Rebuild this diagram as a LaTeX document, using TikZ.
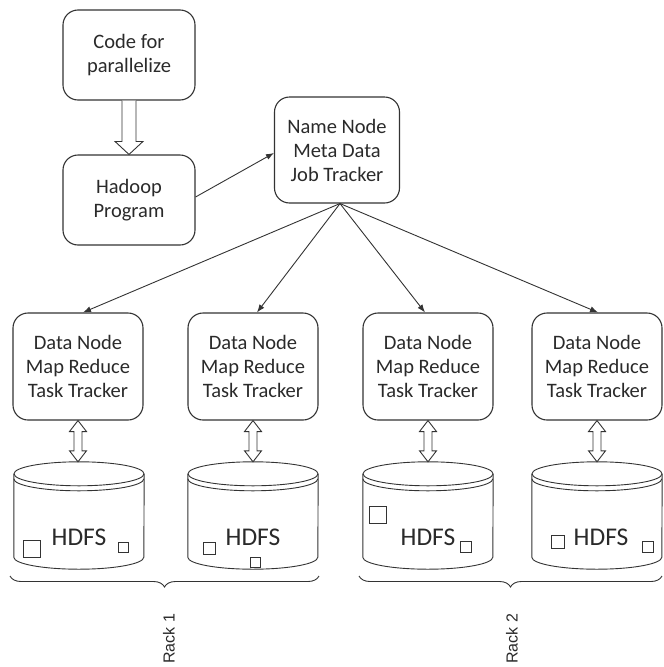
\documentclass[tikz,border=0pt]{standalone}
\usepackage{fontspec}
\setmainfont{Carlito}
\newfontfamily\rackfont{Liberation Sans}
\usetikzlibrary{arrows.meta, positioning, calc, decorations.pathreplacing}
\definecolor{inkgray}{HTML}{333333}
\definecolor{txtgray}{HTML}{2A2A2A}

\begin{document}
\begin{tikzpicture}[
  x=1pt, y=-1pt,
  >={Latex[length=8pt, width=6pt]},
  arr/.style={draw=inkgray, line width=0.9pt, ->},
  hollow/.style={draw=inkgray, line width=0.9pt, fill=white, line join=miter},
  box/.style={rectangle, rounded corners=15pt, draw=inkgray, line width=1.1pt,
    text=txtgray, align=center, font=\fontsize{20.5}{24}\selectfont},
  drum/.style={rectangle, draw=none, minimum width=130pt, minimum height=107pt, inner sep=0pt},
  drumtxt/.style={font=\fontsize{25.5}{30}\selectfont, text=txtgray, inner sep=0pt},
  blk/.style={draw=inkgray, line width=0.9pt},
  rack/.style={font=\rackfont\fontsize{16}{19}\selectfont, text=txtgray, rotate=90, anchor=west, inner sep=0pt},
]

% Frame
\useasboundingbox (0,0) rectangle (664,667);

% === Client side ===
\node[box, minimum width=132pt, minimum height=90pt] (code) at (129,55) {Code for\\parallelize};
\node[box, minimum width=132pt, minimum height=90pt] (hadoop) at (129,200) {Hadoop\\Program};

% Hollow arrow code -> program
\draw[hollow] ([xshift=-7pt]code.south) -- ([xshift=-7pt,yshift=13pt]hadoop.north)
  -- ([xshift=-14pt,yshift=13pt]hadoop.north) -- (hadoop.north)
  -- ([xshift=14pt,yshift=13pt]hadoop.north) -- ([xshift=7pt,yshift=13pt]hadoop.north)
  -- ([xshift=7pt]code.south);

% === Master ===
\node[box, minimum width=125pt, minimum height=106pt] (name) at (337,150) {Name Node\\Meta Data\\Job Tracker};
\draw[arr] ([yshift=3pt]hadoop.east) -- ([yshift=-3pt]name.west);

% === Workers ===
\node[box, minimum width=130pt, minimum height=107pt] (dn1) at (78,366.5) {Data Node\\Map Reduce\\Task Tracker};
\node[box, minimum width=130pt, minimum height=107pt] (dn2) at (253,366.5) {Data Node\\Map Reduce\\Task Tracker};
\node[box, minimum width=130pt, minimum height=107pt] (dn3) at (428,366.5) {Data Node\\Map Reduce\\Task Tracker};
\node[box, minimum width=130pt, minimum height=107pt] (dn4) at (597,366.5) {Data Node\\Map Reduce\\Task Tracker};

\foreach \d/\dx in {dn1/5, dn2/4, dn3/-3, dn4/1}
  \draw[arr] ([xshift=3pt]name.south) -- ([xshift=\dx pt]\d.north);

% === HDFS drums ===
\node[drum] (hdfs1) at (79,515.5) {};
\node[drum] (hdfs2) at (253,515.5) {};
\node[drum] (hdfs3) at (428,515.5) {};
\node[drum] (hdfs4) at (597,515.5) {};

\foreach \c in {hdfs1, hdfs2, hdfs3, hdfs4} {
  \draw[blk, fill=white] ($(\c.north west)+(0,12)$) -- ($(\c.south west)+(0,-12)$)
    arc[start angle=180, end angle=0, x radius=65, y radius=12]
    -- ($(\c.north east)+(0,12)$);
  \draw[blk] ($(\c.north)+(0,12)$) ellipse[x radius=65, y radius=12];
  \draw[blk] ($(\c.north west)+(0,17)$) arc[start angle=180, end angle=0, x radius=65, y radius=12];
}

\node[drumtxt] (t1) at (79,537) {HDFS};
\node[drumtxt] (t2) at (253,537) {HDFS};
\node[drumtxt] (t3) at (428,537) {HDFS};
\node[drumtxt] (t4) at (601,537) {HDFS};

% blocks
\draw[blk] (23,540) rectangle (40,557);
\draw[blk] (118,542) rectangle (128,552);
\draw[blk] (203,542) rectangle (215,554);
\draw[blk] (250,557) rectangle (260,567);
\draw[blk] (369,506) rectangle (386,523);
\draw[blk] (460,541) rectangle (471,552);
\draw[blk] (551,535) rectangle (564,548);
\draw[blk] (642,541) rectangle (653,552);

% Double hollow arrows worker <-> drum
\foreach \d/\h in {dn1/hdfs1, dn2/hdfs2, dn3/hdfs3, dn4/hdfs4}
  \draw[hollow] (\d.south) -- ([xshift=-8.5pt,yshift=-11pt]\d.south) -- ([xshift=-4pt,yshift=-11pt]\d.south)
    -- ([xshift=-4pt,yshift=11pt]\d.south |- \h.north) -- ([xshift=-8.5pt,yshift=11pt]\d.south |- \h.north)
    -- (\d.south |- \h.north) -- ([xshift=8.5pt,yshift=11pt]\d.south |- \h.north)
    -- ([xshift=4pt,yshift=11pt]\d.south |- \h.north) -- ([xshift=4pt,yshift=-11pt]\d.south)
    -- ([xshift=8.5pt,yshift=-11pt]\d.south) -- cycle;

% === Racks ===
\draw[blk, decorate, decoration={brace, mirror, amplitude=11pt}] (10,576) -- (319,576);
\draw[blk, decorate, decoration={brace, mirror, amplitude=11pt}] (359,576) -- (662,576);
\node[rack] (rack1) at (169,664) {Rack 1};
\node[rack] (rack2) at (512,664) {Rack 2};

\end{tikzpicture}
\end{document}
